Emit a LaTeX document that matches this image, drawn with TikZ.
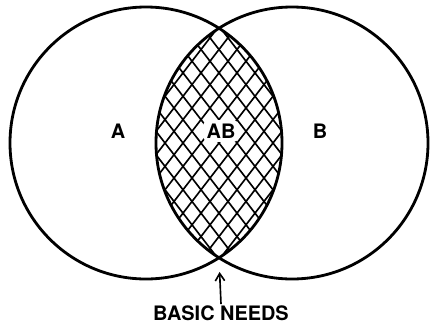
\documentclass[tikz,border=0pt]{standalone}
\usepackage{fontspec}
\setmainfont{TeX Gyre Heros}
\usetikzlibrary{arrows.meta,positioning}

\begin{document}
\begin{tikzpicture}[
      x=0.03cm, y=-0.03cm,
      every node/.style={font=\fontsize{17}{19}\selectfont\bfseries},
      ring/.style={line width=2.4pt},
      hatch/.style={line width=1.4pt},
      arr/.style={-{Straight Barb[length=2.2mm,width=2.8mm]}, line width=1.4pt}
  ]
    \useasboundingbox (0,0) rectangle (430,329);

    % ---- Hatched overlap ----
    \begin{scope}
      \clip (146,143) circle (136);
      \clip (292,143) circle (136);
      \foreach \x in {-342,-324,...,342} {
        \draw[hatch] ({219+\x-115.5},-7) -- ++(231,300);
        \draw[hatch] ({219+\x+115.5},-7) -- ++(-231,300);
      }
    \end{scope}

    % ---- Circles ----
    \draw[ring] (146,143) circle (136);
    \draw[ring] (292,143) circle (136);
    \coordinate (bot) at (219,258);

    % ---- Labels ----
    \node (labA) at (118,131) {A};
    \node[fill=white, inner sep=3pt, rounded corners=5pt] (labAB) at (221,131) {AB};
    \node (labB) at (320,131) {B};
    \node[inner sep=1pt] (needs) at (221,313) {BASIC NEEDS};

    % Arrow
    \draw[arr, shorten >=0.42cm] (needs.north) -- (bot);

\end{tikzpicture}
\end{document}
